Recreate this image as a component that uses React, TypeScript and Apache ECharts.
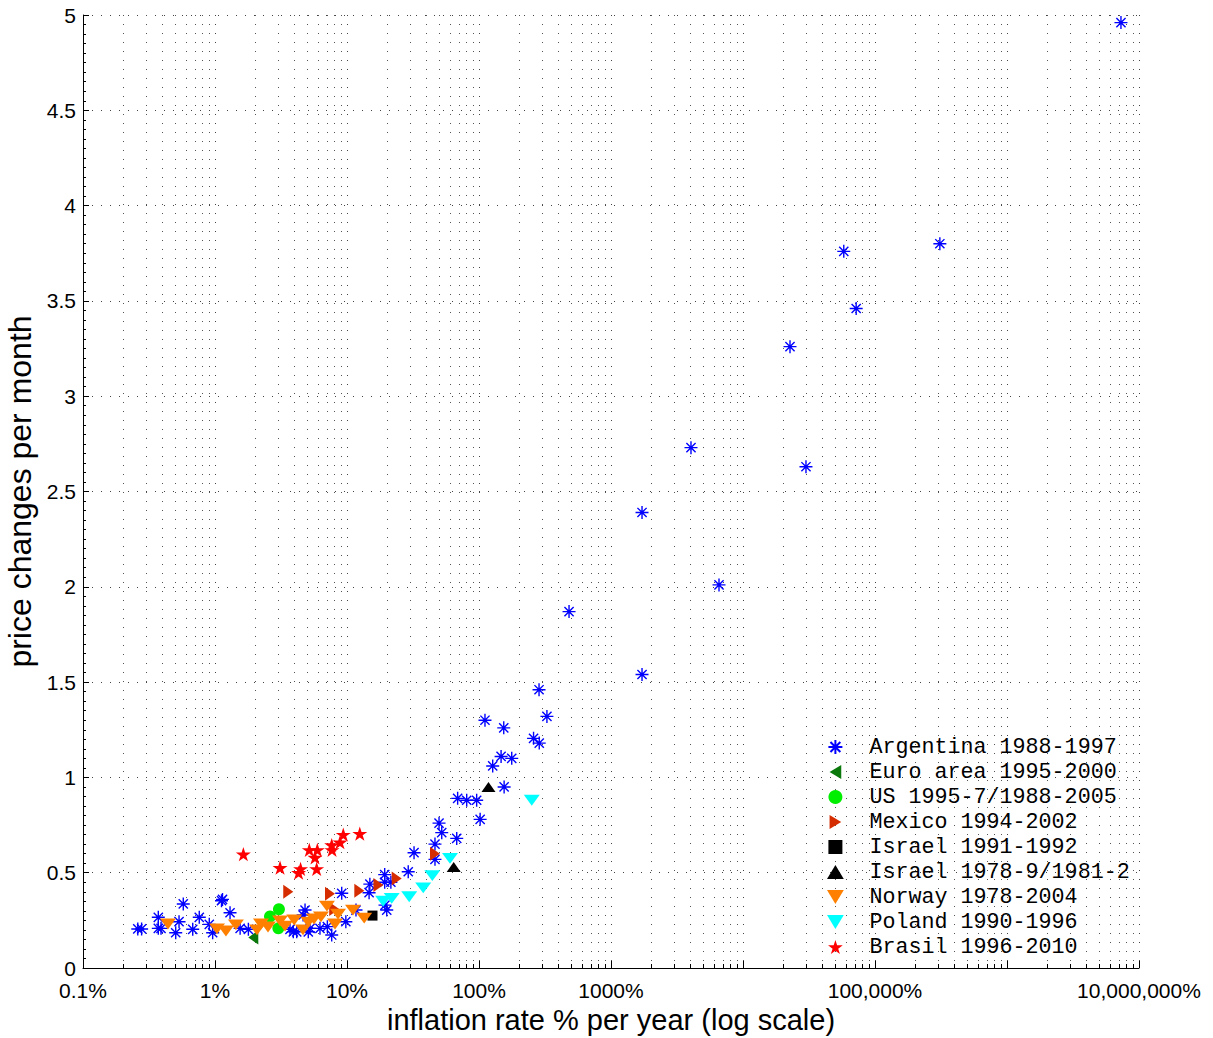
import React, { useEffect, useRef } from 'react';
import * as echarts from 'echarts';

// ---- data (x: inflation % per year, y: price changes per month) ----
const argentina: number[][] = [
  [0.26, 0.205], [0.278, 0.205], [0.372, 0.266], [0.372, 0.208], [0.39, 0.208],
  [0.575, 0.336], [0.534, 0.243], [0.504, 0.185], [0.678, 0.203], [0.76, 0.266],
  [0.905, 0.229], [0.96, 0.185], [1.12, 0.353], [1.14, 0.36], [1.3, 0.29],
  [1.55, 0.208], [1.79, 0.203], [4.81, 0.304], [4.65, 0.278], [3.92, 0.19],
  [3.7, 0.203], [4.16, 0.19], [5.09, 0.19], [5.25, 0.208], [6.24, 0.208],
  [7.1, 0.217], [7.66, 0.173], [9.12, 0.392], [9.8, 0.243], [11.7, 0.304],
  [14.9, 0.44], [14.7, 0.395], [19.3, 0.49], [19.3, 0.45], [21.5, 0.45],
  [20, 0.304], [19.4, 0.33], [29.1, 0.505], [32.2, 0.605], [46.4, 0.65],
  [52.2, 0.71], [49.8, 0.76], [67.8, 0.68], [46.4, 0.57], [68.9, 0.89],
  [80.7, 0.88], [96, 0.88], [102, 0.78], [155, 0.95], [127, 1.06],
  [147, 1.11], [177, 1.1], [111, 1.3], [154, 1.26], [259, 1.205],
  [286, 1.18], [285, 1.46], [327, 1.32], [481, 1.87], [1718, 1.54],
  [1718, 2.39], [4036, 2.73], [6580, 2.01], [22700, 3.26], [30000, 2.63],
  [58000, 3.76], [72000, 3.46], [310000, 3.8], [7300000, 4.96],
];
const euroArea: number[][] = [[1.95, 0.16]];
const usData: number[][] = [[3.05, 0.308], [2.61, 0.27], [3.02, 0.208]];
const mexico: number[][] = [
  [3.59, 0.4], [7.43, 0.39], [8.0, 0.31], [12.4, 0.405], [17.3, 0.435], [23.8, 0.47], [46.4, 0.6],
];
const israel9192: number[][] = [[15.6, 0.275]];
const israel7882: number[][] = [[64.3, 0.53], [118, 0.95]];
const norway: number[][] = [
  [0.44, 0.231], [1.035, 0.205], [1.21, 0.194], [1.44, 0.226], [2.08, 0.2],
  [2.23, 0.231], [2.52, 0.215], [3.11, 0.247], [3.39, 0.22], [3.98, 0.252],
  [4.64, 0.2], [5.09, 0.241], [5.62, 0.257], [6.35, 0.268], [7.05, 0.325],
  [8.11, 0.231], [8.55, 0.283], [11.1, 0.304], [13.5, 0.262],
];
const poland: number[][] = [
  [18.8, 0.35], [21.8, 0.365], [29.6, 0.374], [37.8, 0.42], [44.3, 0.485], [60.3, 0.575], [251, 0.88],
];
const brasil: number[][] = [
  [1.64, 0.597], [3.11, 0.526], [4.3, 0.5], [4.45, 0.52], [5.18, 0.62], [5.96, 0.62],
  [5.72, 0.58], [5.89, 0.52], [7.66, 0.645], [7.7, 0.62], [8.85, 0.66], [9.37, 0.7], [12.5, 0.705],
];

const seriesNames = [
  'Argentina 1988-1997', 'Euro area 1995-2000', 'US 1995-7/1988-2005', 'Mexico 1994-2002',
  'Israel 1991-1992', 'Israel 1978-9/1981-2', 'Norway 1978-2004', 'Poland 1990-1996', 'Brasil 1996-2010',
];
const xTickLabels = ['0.1%', '1%', '10%', '100%', '1000%', '', '100,000%', '', '10,000,000%'];
const xDecadeExponents = [-1, 0, 1, 2, 3, 4, 5, 6];
const minorMultipliers = [2, 3, 4, 5, 6, 7, 8, 9];

const SANS = "'Liberation Sans', Arial, Helvetica, sans-serif";
const MONO = "'Liberation Mono', 'Courier New', monospace";

const ASTERISK = 'path://M0,-10L0,10M-10,0L10,0M-7.07,-7.07L7.07,7.07M-7.07,7.07L7.07,-7.07';
const TRI_LEFT = 'path://M10,0L0,6L10,12Z';
const TRI_RIGHT = 'path://M0,0L10,6L0,12Z';
const TRI_DOWN = 'path://M0,0L12,0L6,10Z';
const TRI_UP = 'path://M6,0L12,10L0,10Z';
const SQUARE = 'path://M0,0L10,0L10,10L0,10Z';
const STAR = 'path://M50,0L61.2,34.5L97.6,34.5L68.2,55.9L79.4,90.5L50,69.1L20.6,90.5L31.8,55.9L2.4,34.5L38.8,34.5Z';

export default function App() {
  const ref = useRef<HTMLDivElement>(null);
  useEffect(() => {
    if (!ref.current) return;
    const chart = echarts.init(ref.current, null, { renderer: 'svg' });
    const minorGrid: number[][] = [];
    xDecadeExponents.forEach((e) => minorMultipliers.forEach((m) => minorGrid.push([m * Math.pow(10, e), 0])));

    const scatter = (name: string, data: number[][], symbol: string, color: string, size: number | number[], extra: any = {}) => ({
      type: 'scatter', name, data, symbol, symbolSize: size, symbolKeepAspect: true,
      itemStyle: { color, borderColor: color, borderWidth: 0, opacity: 1, ...extra },
      z: 3, silent: true,
    });

    chart.setOption({
      animation: false,
      backgroundColor: '#fff',
      grid: { left: 83, right: 74, top: 15, bottom: 70, containLabel: false, outerBoundsMode: 'none' },
      legend: {
        orient: 'vertical', left: 827, top: 736, padding: 0, itemWidth: 58, itemHeight: 14, itemGap: 3,
        selectedMode: false, symbolKeepAspect: true,
        textStyle: { fontFamily: MONO, fontSize: 21.7, color: '#000' },
        data: seriesNames,
      },
      xAxis: {
        type: 'log', logBase: 10, min: 0.1, max: 1e7, splitNumber: 8,
        name: 'inflation rate % per year (log scale)', nameLocation: 'middle', nameGap: 37,
        nameTextStyle: { fontFamily: SANS, fontSize: 29, color: '#000' },
        axisLine: { show: true, onZero: false, lineStyle: { color: '#000', width: 1 } },
        axisTick: { show: true, inside: true, length: 7, lineStyle: { color: '#000' } },
        axisLabel: {
          fontFamily: SANS, fontSize: 21, color: '#000', margin: 12, showMaxLabel: true, showMinLabel: true,
          formatter: (v: number) => {
            const i = Math.round(Math.log10(v)) + 1;
            return xTickLabels[i] ?? '';
          },
        },
        splitLine: { show: true, lineStyle: { color: '#444', width: 1, type: [1, 8] } },
      },
      yAxis: {
        type: 'value', min: 0, max: 5, interval: 0.5,
        name: 'price changes per month', nameLocation: 'middle', nameGap: 35,
        nameTextStyle: { fontFamily: SANS, fontSize: 32, color: '#000' },
        axisLine: { show: true, lineStyle: { color: '#000', width: 1 } },
        axisTick: { show: true, inside: true, length: 6, lineStyle: { color: '#000' } },
        minorTick: { show: true, splitNumber: 10, length: 3, lineStyle: { color: '#000' } },
        axisLabel: { fontFamily: SANS, fontSize: 21, color: '#000', margin: 7 },
        splitLine: { show: true, lineStyle: { color: '#444', width: 1, type: [1, 8] } },
      },
      series: [
        {
          type: 'custom', name: '__grid', silent: true, z: 1, data: minorGrid,
          renderItem: (params: any, api: any) => {
            const x = api.value(0);
            const top = api.coord([x, 5]);
            const bot = api.coord([x, 0]);
            const px = Math.round(bot[0]) + 0.5;
            return {
              type: 'group',
              children: [
                { type: 'line', shape: { x1: px, y1: top[1], x2: px, y2: bot[1] }, style: { stroke: '#555', lineWidth: 1, lineDash: [1, 8] } },
                { type: 'line', shape: { x1: px, y1: bot[1], x2: px, y2: bot[1] - 4 }, style: { stroke: '#000', lineWidth: 1 } },
              ],
            };
          },
        },
        scatter(seriesNames[0], argentina, ASTERISK, '#0000ff', 13, { borderWidth: 1.4, color: 'transparent', borderColor: '#0000ff' }),
        scatter(seriesNames[1], euroArea, TRI_LEFT, '#0a780a', [12, 14]),
        scatter(seriesNames[2], usData, 'circle', '#00ee00', 12),
        scatter(seriesNames[3], mexico, TRI_RIGHT, '#d62d00', [12, 14]),
        scatter(seriesNames[4], israel9192, SQUARE, '#000000', 10),
        scatter(seriesNames[5], israel7882, TRI_UP, '#000000', [14, 12]),
        scatter(seriesNames[6], norway, TRI_DOWN, '#ff8000', [16, 13]),
        scatter(seriesNames[7], poland, TRI_DOWN, '#00ffff', [16, 13]),
        scatter(seriesNames[8], brasil, STAR, '#ff0000', 15),
      ],
    });
    return () => chart.dispose();
  }, []);
  return <div ref={ref} style={{ position: 'absolute', left: 0, top: 0, width: 1213, height: 1038 }} />;
}
